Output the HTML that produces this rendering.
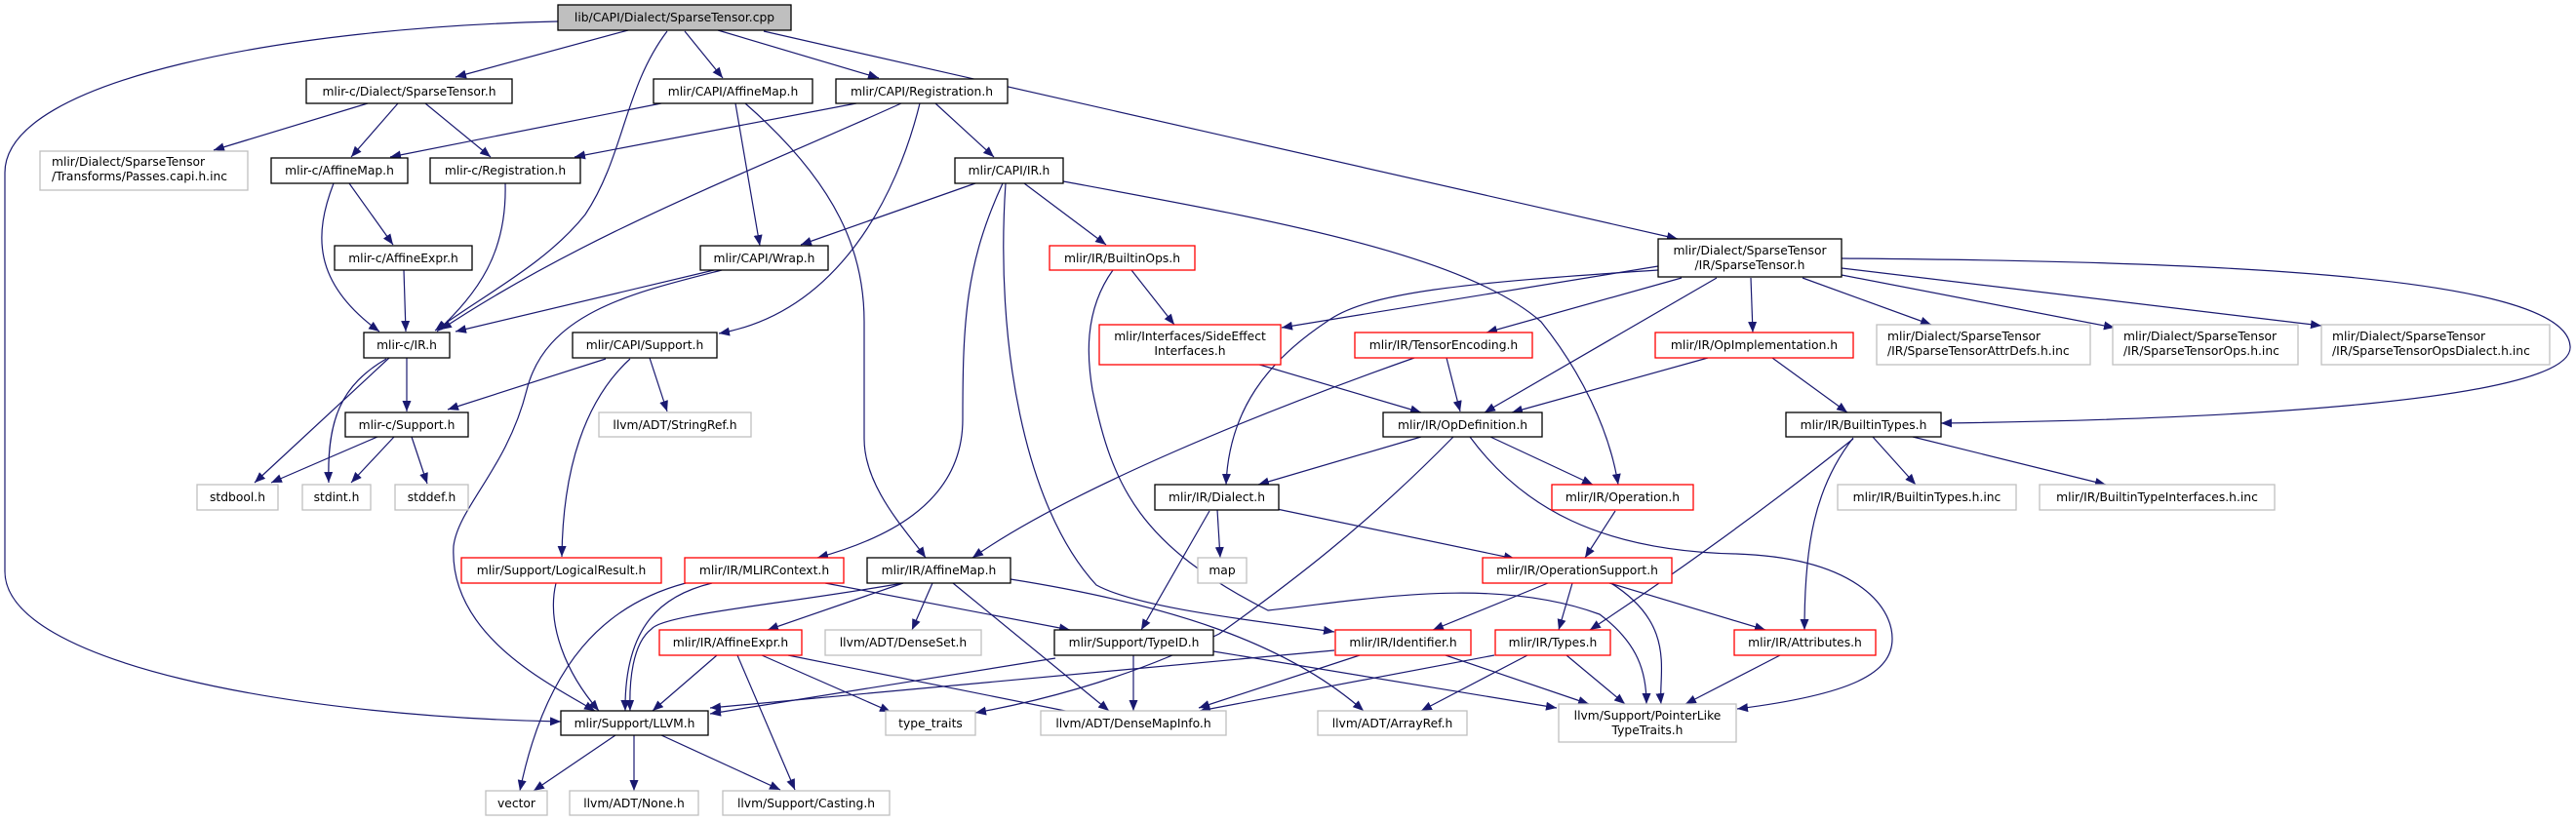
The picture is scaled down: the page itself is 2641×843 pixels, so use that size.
<!DOCTYPE html>
<html><head><meta charset="utf-8"><style>
html,body{margin:0;padding:0;background:#fff;}
svg{display:block;}
text{font-family:"DejaVu Sans","Liberation Sans",sans-serif;font-size:12.3px;fill:#000;}
.e{fill:none;stroke:#191970;stroke-width:1.2;marker-end:url(#a);}
.b{fill:#fff;stroke:#000;stroke-width:1.3;}
.r{fill:#fff;stroke:#ff0000;stroke-width:1.3;}
.g{fill:#fff;stroke:#bfbfbf;stroke-width:1.3;}
</style></head><body>
<svg width="2641" height="843" viewBox="0 0 2641 843" xmlns="http://www.w3.org/2000/svg">
<defs><marker id="a" markerUnits="userSpaceOnUse" markerWidth="12" markerHeight="10" refX="11" refY="4.5" orient="auto"><path d="M0,0 L11,4.5 L0,9 z" fill="#191970"/></marker></defs>
<g>
<path class="e" d="M572,22 C300,28 5,80 5,177 L5,586 C5,680 300,735 575,740"/>
<path class="e" d="M644,31 L467,79"/>
<path class="e" d="M684,32 C640,90 640,160 600,220 C560,270 500,300 446,339"/>
<path class="e" d="M702,32 L741,80"/>
<path class="e" d="M736,31 L901,80"/>
<path class="e" d="M783,32 L1720,245"/>
<path class="e" d="M377,106 L219,154"/>
<path class="e" d="M408,106 L360,161"/>
<path class="e" d="M436,106 L503,161"/>
<path class="e" d="M678,106 L400,161"/>
<path class="e" d="M754,106 L779,252"/>
<path class="e" d="M764,106 C860,190 886,260 886,330 L886,450 C886,500 930,545 949,572"/>
<path class="e" d="M878,106 L589,161"/>
<path class="e" d="M924,106 C760,180 600,240 452,338"/>
<path class="e" d="M943,106 C920,200 860,320 737,342"/>
<path class="e" d="M959,106 L1019,161"/>
<path class="e" d="M358,188 L403,251"/>
<path class="e" d="M342,188 C322,240 320,290 389,340"/>
<path class="e" d="M518,188 C520,260 490,300 448,340"/>
<path class="e" d="M414,277 L416,340"/>
<path class="e" d="M1000,188 L821,251"/>
<path class="e" d="M1050,188 L1134,251"/>
<path class="e" d="M1028,188 C990,270 987,330 987,430 C987,520 900,555 838,572"/>
<path class="e" d="M1031,188 C1020,350 1050,520 1124,600 C1170,625 1300,638 1368,648"/>
<path class="e" d="M1090,186 C1300,225 1500,260 1580,330 C1620,380 1650,440 1659,497"/>
<path class="e" d="M417,367 L417,422"/>
<path class="e" d="M399,367 L261,495"/>
<path class="e" d="M396,368 C350,395 335,430 337,495"/>
<path class="e" d="M387,448 L278,495"/>
<path class="e" d="M404,448 L360,495"/>
<path class="e" d="M422,448 L438,496"/>
<path class="e" d="M621,368 L459,420"/>
<path class="e" d="M666,367 L684,422"/>
<path class="e" d="M646,368 C600,410 577,480 576,571"/>
<path class="e" d="M732,277 L467,340"/>
<path class="e" d="M740,277 C650,300 560,320 540,400 C520,480 470,520 465,560 C460,650 560,700 610,729"/>
<path class="e" d="M570,598 C560,640 580,690 614,729"/>
<path class="e" d="M730,598 C680,610 640,640 641,729"/>
<path class="e" d="M703,598 C620,620 560,680 533,811"/>
<path class="e" d="M846,598 L1097,646"/>
<path class="e" d="M926,598 C800,620 680,630 668,645 C648,660 645,700 646,729"/>
<path class="e" d="M926,598 L787,646"/>
<path class="e" d="M956,598 L935,646"/>
<path class="e" d="M977,598 L1137,729"/>
<path class="e" d="M1036,594 C1200,620 1320,660 1398,729"/>
<path class="e" d="M735,672 L669,729"/>
<path class="e" d="M756,672 L815,810"/>
<path class="e" d="M781,672 L913,730"/>
<path class="e" d="M808,672 L1137,738"/>
<path class="e" d="M1162,672 L1162,729"/>
<path class="e" d="M1082,675 L728,732"/>
<path class="e" d="M1244,668 L1596,726"/>
<path class="e" d="M631,754 L547,811"/>
<path class="e" d="M650,754 L650,811"/>
<path class="e" d="M678,754 L800,810"/>
<path class="e" d="M1248,523 L1251,572"/>
<path class="e" d="M1240,524 L1170,646"/>
<path class="e" d="M1309,522 L1553,573"/>
<path class="e" d="M1160,277 L1204,333"/>
<path class="e" d="M1141,277 C1110,320 1115,370 1120,400 C1140,500 1170,560 1300,626 C1400,615 1532,590 1640,630 C1680,660 1688,690 1688,722"/>
<path class="e" d="M1288,373 L1457,423"/>
<path class="e" d="M1700,273 L1314,336"/>
<path class="e" d="M1700,277 C1500,290 1400,300 1360,330 C1300,370 1260,420 1257,497"/>
<path class="e" d="M1724,285 L1524,341"/>
<path class="e" d="M1760,285 L1522,423"/>
<path class="e" d="M1795,285 L1797,341"/>
<path class="e" d="M1848,285 L1980,333"/>
<path class="e" d="M1888,282 L2168,336"/>
<path class="e" d="M1888,275 L2380,334"/>
<path class="e" d="M1888,265 C2250,268 2630,280 2635,355 C2640,410 2300,430 1990,434"/>
<path class="e" d="M1483,367 L1497,422"/>
<path class="e" d="M1450,367 C1300,420 1100,500 997,572"/>
<path class="e" d="M1751,367 L1550,423"/>
<path class="e" d="M1817,367 L1894,423"/>
<path class="e" d="M1457,448 L1290,497"/>
<path class="e" d="M1528,448 L1633,497"/>
<path class="e" d="M1490,448 C1400,540 1320,600 1250,650 C1150,700 1050,722 1000,731"/>
<path class="e" d="M1507,448 C1560,520 1640,565 1780,568 C1900,572 1940,620 1940,655 C1940,690 1900,712 1781,727"/>
<path class="e" d="M1656,524 L1625,572"/>
<path class="e" d="M1587,598 L1469,646"/>
<path class="e" d="M1612,598 L1598,646"/>
<path class="e" d="M1650,598 L1810,646"/>
<path class="e" d="M1650,597 C1720,640 1700,690 1703,722"/>
<path class="e" d="M1368,667 L728,726"/>
<path class="e" d="M1394,672 L1229,726"/>
<path class="e" d="M1482,672 L1629,722"/>
<path class="e" d="M1566,672 L1457,729"/>
<path class="e" d="M1606,672 L1666,722"/>
<path class="e" d="M1532,672 L1230,729"/>
<path class="e" d="M1825,672 L1728,722"/>
<path class="e" d="M1920,448 L1964,497"/>
<path class="e" d="M1961,448 L2159,497"/>
<path class="e" d="M1900,450 C1800,530 1700,600 1630,646"/>
<path class="e" d="M1900,449 C1860,500 1850,560 1850,646"/>
</g>
<g>
<rect x="572" y="5" width="239" height="26" fill="#bfbfbf" stroke="#000" stroke-width="1.3"/><text x="691.5" y="22" text-anchor="middle">lib/CAPI/Dialect/SparseTensor.cpp</text>
<rect class="b" x="314" y="81" width="211" height="25"/><text x="419.5" y="98" text-anchor="middle">mlir-c/Dialect/SparseTensor.h</text>
<rect class="g" x="41" y="155" width="213" height="40"/><text x="53" y="170">mlir/Dialect/SparseTensor</text><text x="53" y="185">/Transforms/Passes.capi.h.inc</text>
<rect class="b" x="278" y="162" width="140" height="26"/><text x="348" y="179" text-anchor="middle">mlir-c/AffineMap.h</text>
<rect class="b" x="441" y="162" width="154" height="26"/><text x="518" y="179" text-anchor="middle">mlir-c/Registration.h</text>
<rect class="b" x="343" y="252" width="141" height="25"/><text x="413.5" y="269" text-anchor="middle">mlir-c/AffineExpr.h</text>
<rect class="b" x="373" y="341" width="88" height="26"/><text x="417" y="358" text-anchor="middle">mlir-c/IR.h</text>
<rect class="b" x="354" y="423" width="126" height="25"/><text x="417" y="440" text-anchor="middle">mlir-c/Support.h</text>
<rect class="g" x="202" y="497" width="83" height="26"/><text x="243.5" y="514" text-anchor="middle">stdbool.h</text>
<rect class="g" x="310" y="497" width="70" height="26"/><text x="345" y="514" text-anchor="middle">stdint.h</text>
<rect class="g" x="405" y="497" width="75" height="26"/><text x="442.5" y="514" text-anchor="middle">stddef.h</text>
<rect class="r" x="473" y="572" width="205" height="26"/><text x="575.5" y="589" text-anchor="middle">mlir/Support/LogicalResult.h</text>
<rect class="b" x="575" y="729" width="151" height="25"/><text x="650.5" y="746" text-anchor="middle">mlir/Support/LLVM.h</text>
<rect class="g" x="498" y="811" width="63" height="25"/><text x="529.5" y="828" text-anchor="middle">vector</text>
<rect class="g" x="584" y="811" width="132" height="25"/><text x="650" y="828" text-anchor="middle">llvm/ADT/None.h</text>
<rect class="g" x="614" y="423" width="156" height="25"/><text x="692" y="440" text-anchor="middle">llvm/ADT/StringRef.h</text>
<rect class="b" x="587" y="341" width="148" height="26"/><text x="661" y="358" text-anchor="middle">mlir/CAPI/Support.h</text>
<rect class="b" x="670" y="81" width="163" height="25"/><text x="751.5" y="98" text-anchor="middle">mlir/CAPI/AffineMap.h</text>
<rect class="b" x="857" y="81" width="176" height="25"/><text x="945" y="98" text-anchor="middle">mlir/CAPI/Registration.h</text>
<rect class="b" x="979" y="162" width="111" height="26"/><text x="1034.5" y="179" text-anchor="middle">mlir/CAPI/IR.h</text>
<rect class="b" x="718" y="252" width="131" height="25"/><text x="783.5" y="269" text-anchor="middle">mlir/CAPI/Wrap.h</text>
<rect class="r" x="1076" y="252" width="149" height="25"/><text x="1150.5" y="269" text-anchor="middle">mlir/IR/BuiltinOps.h</text>
<rect class="r" x="1127" y="333" width="186" height="41"/><text x="1220" y="349" text-anchor="middle">mlir/Interfaces/SideEffect</text><text x="1220" y="364" text-anchor="middle">Interfaces.h</text>
<rect class="b" x="1184" y="497" width="127" height="26"/><text x="1247.5" y="514" text-anchor="middle">mlir/IR/Dialect.h</text>
<rect class="g" x="1228" y="572" width="50" height="26"/><text x="1253" y="589" text-anchor="middle">map</text>
<rect class="r" x="702" y="572" width="163" height="26"/><text x="783.5" y="589" text-anchor="middle">mlir/IR/MLIRContext.h</text>
<rect class="b" x="889" y="572" width="147" height="26"/><text x="962.5" y="589" text-anchor="middle">mlir/IR/AffineMap.h</text>
<rect class="r" x="676" y="646" width="146" height="26"/><text x="749" y="663" text-anchor="middle">mlir/IR/AffineExpr.h</text>
<rect class="g" x="846" y="646" width="160" height="26"/><text x="926" y="663" text-anchor="middle">llvm/ADT/DenseSet.h</text>
<rect class="b" x="1081" y="646" width="163" height="26"/><text x="1162.5" y="663" text-anchor="middle">mlir/Support/TypeID.h</text>
<rect class="g" x="908" y="729" width="92" height="25"/><text x="954" y="746" text-anchor="middle">type_traits</text>
<rect class="g" x="1067" y="729" width="190" height="25"/><text x="1162" y="746" text-anchor="middle">llvm/ADT/DenseMapInfo.h</text>
<rect class="g" x="741" y="811" width="171" height="25"/><text x="826.5" y="828" text-anchor="middle">llvm/Support/Casting.h</text>
<rect class="b" x="1700" y="245" width="188" height="39"/><text x="1794" y="261" text-anchor="middle">mlir/Dialect/SparseTensor</text><text x="1794" y="276" text-anchor="middle">/IR/SparseTensor.h</text>
<rect class="r" x="1389" y="341" width="182" height="26"/><text x="1480" y="358" text-anchor="middle">mlir/IR/TensorEncoding.h</text>
<rect class="r" x="1697" y="341" width="203" height="26"/><text x="1798.5" y="358" text-anchor="middle">mlir/IR/OpImplementation.h</text>
<rect class="b" x="1418" y="423" width="163" height="25"/><text x="1499.5" y="440" text-anchor="middle">mlir/IR/OpDefinition.h</text>
<rect class="b" x="1831" y="423" width="159" height="25"/><text x="1910.5" y="440" text-anchor="middle">mlir/IR/BuiltinTypes.h</text>
<rect class="r" x="1591" y="497" width="145" height="26"/><text x="1663.5" y="514" text-anchor="middle">mlir/IR/Operation.h</text>
<rect class="g" x="1884" y="497" width="183" height="26"/><text x="1975.5" y="514" text-anchor="middle">mlir/IR/BuiltinTypes.h.inc</text>
<rect class="r" x="1520" y="572" width="194" height="26"/><text x="1617" y="589" text-anchor="middle">mlir/IR/OperationSupport.h</text>
<rect class="r" x="1369" y="646" width="139" height="26"/><text x="1438.5" y="663" text-anchor="middle">mlir/IR/Identifier.h</text>
<rect class="r" x="1533" y="646" width="118" height="26"/><text x="1592" y="663" text-anchor="middle">mlir/IR/Types.h</text>
<rect class="r" x="1778" y="646" width="145" height="26"/><text x="1850.5" y="663" text-anchor="middle">mlir/IR/Attributes.h</text>
<rect class="g" x="1351" y="729" width="153" height="25"/><text x="1427.5" y="746" text-anchor="middle">llvm/ADT/ArrayRef.h</text>
<rect class="g" x="1598" y="722" width="182" height="39"/><text x="1689" y="738" text-anchor="middle">llvm/Support/PointerLike</text><text x="1689" y="753" text-anchor="middle">TypeTraits.h</text>
<rect class="g" x="1924" y="333" width="219" height="41"/><text x="1935" y="349">mlir/Dialect/SparseTensor</text><text x="1935" y="364">/IR/SparseTensorAttrDefs.h.inc</text>
<rect class="g" x="2166" y="333" width="190" height="41"/><text x="2177" y="349">mlir/Dialect/SparseTensor</text><text x="2177" y="364">/IR/SparseTensorOps.h.inc</text>
<rect class="g" x="2380" y="333" width="234" height="41"/><text x="2391" y="349">mlir/Dialect/SparseTensor</text><text x="2391" y="364">/IR/SparseTensorOpsDialect.h.inc</text>
<rect class="g" x="2091" y="497" width="241" height="26"/><text x="2211.5" y="514" text-anchor="middle">mlir/IR/BuiltinTypeInterfaces.h.inc</text>
</g>
</svg>
</body></html>
